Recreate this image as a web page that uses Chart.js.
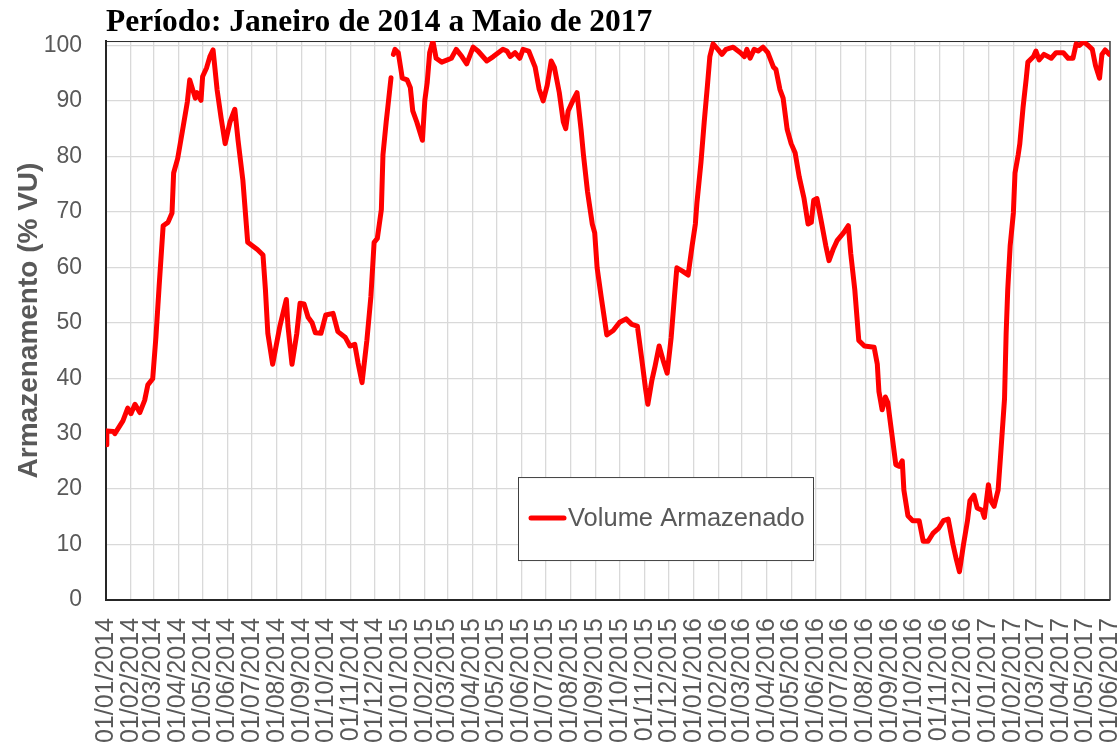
<!DOCTYPE html>
<html>
<head>
<meta charset="utf-8">
<script src="https://cdn.jsdelivr.net/npm/chart.js@4.4.1/dist/chart.umd.min.js"></script>
<style>
  body { margin: 0; background: #fff; }
</style>
</head>
<body>
<canvas id="volume-chart" width="1120" height="745"></canvas>
<script>
// datas (dd/mm/aaaa) e volume armazenado (% VU)
const dates = [
  '01/01/2014','02/01/2014','10/01/2014','12/01/2014','22/01/2014','28/01/2014','01/02/2014','06/02/2014',
  '12/02/2014','18/02/2014','22/02/2014','28/02/2014','04/03/2014','08/03/2014','13/03/2014','19/03/2014',
  '24/03/2014','26/03/2014','31/03/2014','07/04/2014','12/04/2014','15/04/2014','22/04/2014','24/04/2014',
  '29/04/2014','01/05/2014','06/05/2014','10/05/2014','14/05/2014','19/05/2014','24/05/2014','29/05/2014',
  '04/06/2014','10/06/2014','14/06/2014','20/06/2014','26/06/2014','08/07/2014','15/07/2014','18/07/2014',
  '21/07/2014','27/07/2014','05/08/2014','13/08/2014','15/08/2014','20/08/2014','26/08/2014','30/08/2014',
  '04/09/2014','09/09/2014','14/09/2014','18/09/2014','25/09/2014','01/10/2014','10/10/2014','16/10/2014',
  '25/10/2014','31/10/2014','06/11/2014','10/11/2014','15/11/2014','21/11/2014','26/11/2014','30/11/2014',
  '04/12/2014','09/12/2014','11/12/2014','15/12/2014','17/12/2014','21/12/2014','22/12/2014','24/12/2014',
  '26/12/2014','30/12/2014','04/01/2015','10/01/2015','14/01/2015','17/01/2015','22/01/2015','29/01/2015',
  '01/02/2015','04/02/2015','07/02/2015','11/02/2015','15/02/2015','22/02/2015','01/03/2015','06/03/2015',
  '12/03/2015','19/03/2015','25/03/2015','02/04/2015','08/04/2015','19/04/2015','27/04/2015','09/05/2015',
  '14/05/2015','18/05/2015','24/05/2015','30/05/2015','03/06/2015','10/06/2015','18/06/2015','23/06/2015',
  '28/06/2015','03/07/2015','08/07/2015','12/07/2015','18/07/2015','23/07/2015','26/07/2015','29/07/2015',
  '04/08/2015','09/08/2015','14/08/2015','17/08/2015','22/08/2015','28/08/2015','31/08/2015','03/09/2015',
  '08/09/2015','15/09/2015','23/09/2015','01/10/2015','09/10/2015','16/10/2015','23/10/2015','29/10/2015',
  '02/11/2015','05/11/2015','10/11/2015','14/11/2015','19/11/2015','24/11/2015','29/11/2015','04/12/2015',
  '08/12/2015','11/12/2015','18/12/2015','25/12/2015','30/12/2015','03/01/2016','05/01/2016','10/01/2016',
  '14/01/2016','18/01/2016','21/01/2016','25/01/2016','31/01/2016','05/02/2016','10/02/2016','19/02/2016',
  '28/02/2016','04/03/2016','07/03/2016','11/03/2016','16/03/2016','21/03/2016','27/03/2016','02/04/2016',
  '09/04/2016','12/04/2016','17/04/2016','21/04/2016','26/04/2016','01/05/2016','06/05/2016','11/05/2016',
  '17/05/2016','22/05/2016','26/05/2016','29/05/2016','02/06/2016','08/06/2016','13/06/2016','17/06/2016',
  '22/06/2016','27/06/2016','05/07/2016','11/07/2016','14/07/2016','19/07/2016','24/07/2016','31/07/2016',
  '12/08/2016','16/08/2016','18/08/2016','22/08/2016','26/08/2016','29/08/2016','03/09/2016','08/09/2016',
  '12/09/2016','16/09/2016','18/09/2016','23/09/2016','29/09/2016','07/10/2016','12/10/2016','18/10/2016',
  '24/10/2016','31/10/2016','06/11/2016','12/11/2016','18/11/2016','22/11/2016','26/11/2016','01/12/2016',
  '06/12/2016','09/12/2016','14/12/2016','18/12/2016','24/12/2016','27/12/2016','01/01/2017','04/01/2017',
  '08/01/2017','13/01/2017','16/01/2017','21/01/2017','23/01/2017','25/01/2017','28/01/2017','01/02/2017',
  '03/02/2017','07/02/2017','09/02/2017','13/02/2017','17/02/2017','19/02/2017','26/02/2017','01/03/2017',
  '05/03/2017','11/03/2017','20/03/2017','26/03/2017','04/04/2017','10/04/2017','16/04/2017','20/04/2017',
  '24/04/2017','29/04/2017','05/05/2017','10/05/2017','14/05/2017','19/05/2017','22/05/2017','26/05/2017',
  '31/05/2017'
];
const volume = [
  28.0, 30.5, 30.4, 30.0, 32.3, 34.6, 33.6, 35.3,
  33.8, 36.0, 38.8, 39.9, 47.4, 56.6, 67.5, 68.1,
  69.8, 77.0, 79.6, 85.5, 89.8, 93.8, 90.5, 91.5,
  90.1, 94.4, 96.0, 98.0, 99.2, 92.0, 86.9, 82.3,
  86.2, 88.5, 82.9, 75.7, 64.5, 63.2, 62.2, 56.0,
  48.1, 42.5, 49.4, 54.2, 49.4, 42.5, 48.1, 53.5,
  53.4, 51.0, 50.0, 48.2, 48.1, 51.4, 51.7, 48.4,
  47.4, 45.8, 46.1, 42.8, 39.2, 46.8, 54.7, 64.5,
  65.2, 70.4, 80.3, 86.2, 88.8, 94.2, null, 98.4,
  99.3, 98.7, 94.1, 93.8, 92.4, 88.2, 86.2, 82.9,
  90.1, 93.4, 98.7, 100.8, 97.7, 97.0, 97.4, 97.7,
  99.3, 98.0, 96.7, 99.7, 99.0, 97.2, 98.0, 99.3,
  99.0, 98.0, 98.7, 97.7, 99.3, 99.0, 96.1, 92.1,
  90.0, 92.8, 97.2, 96.0, 91.5, 86.2, 85.0, 88.2,
  90.1, 91.5, 84.9, 80.3, 73.7, 67.8, 66.2, 59.9,
  54.7, 47.8, 48.6, 50.1, 50.7, 49.7, 49.4, 42.8,
  38.2, 35.3, 39.6, 42.2, 45.8, 43.2, 40.9, 47.4,
  54.7, 59.9, 59.3, 58.6, 63.9, 67.8, 71.7, 79.0,
  86.2, 92.8, 98.0, 100.3, 99.3, 98.4, 99.3, 99.7,
  98.7, 98.0, 99.3, 97.7, 99.3, 99.0, 99.7, 98.7,
  96.1, 95.7, 92.1, 90.5, 84.9, 82.3, 80.6, 76.3,
  72.4, 67.8, 68.1, 72.1, 72.4, 67.8, 63.9, 61.2,
  63.2, 64.8, 66.2, 67.5, 62.5, 56.0, 46.8, 45.8,
  45.6, 42.5, 37.6, 34.3, 36.6, 35.6, 30.0, 24.4,
  24.1, 25.1, 19.8, 15.2, 14.3, 14.3, 10.6, 10.6,
  12.0, 12.9, 14.3, 14.6, 10.0, 7.4, 5.1, 10.0,
  14.3, 17.9, 18.9, 16.6, 16.2, 14.9, 20.8, 17.9,
  16.9, 19.8, 25.8, 36.3, 48.1, 56.0, 63.9, 69.8,
  77.0, 80.3, 82.3, 88.8, 94.1, 97.0, 98.0, 99.0,
  97.4, 98.4, 97.7, 98.7, 98.7, 97.7, 97.7, 100.3,
  100.0, 100.7, 100.0, 99.3, 96.4, 94.1, 98.4, 99.2,
  98.4
];
const tickLabels = [
  '01/01/2014','01/02/2014','01/03/2014','01/04/2014','01/05/2014','01/06/2014','01/07/2014',
  '01/08/2014','01/09/2014','01/10/2014','01/11/2014','01/12/2014','01/01/2015','01/02/2015',
  '01/03/2015','01/04/2015','01/05/2015','01/06/2015','01/07/2015','01/08/2015','01/09/2015',
  '01/10/2015','01/11/2015','01/12/2015','01/01/2016','01/02/2016','01/03/2016','01/04/2016',
  '01/05/2016','01/06/2016','01/07/2016','01/08/2016','01/09/2016','01/10/2016','01/11/2016',
  '01/12/2016','01/01/2017','01/02/2017','01/03/2017','01/04/2017','01/05/2017','01/06/2017'
];
const yTicks = [0, 10, 20, 30, 40, 50, 60, 70, 80, 90, 100];

var gray = '#595959';
var sans = "'Liberation Sans', Arial, sans-serif";

// dia contado a partir de 01/01/2014
function dayIndex(s) {
  var p = s.split('/');
  return (Date.UTC(+p[2], +p[1] - 1, +p[0]) - Date.UTC(2014, 0, 1)) / 86400000;
}

var points = dates.map(function (d, i) {
  return { x: dayIndex(d), y: volume[i] };
});
var tickDays = tickLabels.map(dayIndex);

var frameAndLegend = {
  id: 'frameAndLegend',
  beforeDatasetsDraw(chart) {
    var a = chart.chartArea, ctx = chart.ctx;
    ctx.save();
    ctx.strokeStyle = '#262626';
    ctx.lineWidth = 1;
    ctx.beginPath();
    ctx.moveTo(a.left, a.top + 0.5);
    ctx.lineTo(a.right, a.top + 0.5);
    ctx.stroke();
    ctx.strokeStyle = '#404040';
    ctx.lineWidth = 1.5;
    ctx.beginPath();
    ctx.moveTo(a.right, a.top);
    ctx.lineTo(a.right, a.bottom);
    ctx.stroke();
    ctx.restore();
  },
  afterDraw(chart) {
    var a = chart.chartArea, ctx = chart.ctx;
    var bx = a.left + 412, by = a.top + 436, bw = 295, bh = 83;
    ctx.save();
    ctx.fillStyle = '#fff';
    ctx.fillRect(bx, by, bw, bh);
    ctx.strokeStyle = '#404040';
    ctx.lineWidth = 1;
    ctx.strokeRect(bx + 0.5, by + 0.5, bw, bh);
    ctx.strokeStyle = '#ff0000';
    ctx.lineWidth = 5;
    ctx.lineCap = 'round';
    ctx.beginPath();
    ctx.moveTo(bx + 13, by + 41);
    ctx.lineTo(bx + 46, by + 41);
    ctx.stroke();
    ctx.fillStyle = gray;
    ctx.font = '25.5px ' + sans;
    ctx.textBaseline = 'middle';
    ctx.fillText(chart.data.datasets[0].label, bx + 50, by + 42);
    ctx.restore();
  }
};

new Chart('volume-chart', {
  type: 'line',
  data: {
    datasets: [
      {
        label: 'Volume Armazenado',
        data: points,
        borderColor: '#ff0000',
        borderWidth: 5,
        borderJoinStyle: 'round',
        borderCapStyle: 'round',
        pointRadius: 0,
        tension: 0,
        spanGaps: false
      }
    ]
  },
  options: {
    responsive: false,
    animation: false,
    devicePixelRatio: 1,
    layout: { padding: { right: 10 } },
    plugins: {
      legend: { display: false },
      tooltip: { enabled: false },
      title: {
        display: true,
        text: 'Período: Janeiro de 2014 a Maio de 2017',
        align: 'start',
        fullSize: false,
        color: '#000',
        font: { family: "'Liberation Serif', 'Times New Roman', serif", size: 31.5, weight: 'bold', lineHeight: 1.1 },
        padding: { top: 6, bottom: 0.4 }
      }
    },
    scales: {
      x: {
        type: 'linear',
        min: 0,
        max: tickDays[tickDays.length - 1],
        afterBuildTicks: function (s) { s.ticks = tickDays.map(function (v) { return { value: v }; }); },
        afterFit: function (s) { s.height = 145; s.paddingLeft = 0; s.paddingRight = 0; },
        ticks: {
          autoSkip: false,
          maxRotation: 90,
          minRotation: 90,
          padding: 18,
          color: gray,
          font: { family: sans, size: 25 },
          callback: function (v, i) { return tickLabels[i]; }
        },
        grid: { color: '#d9d9d9', lineWidth: 1.3, drawTicks: false },
        border: { color: '#262626', width: 2 }
      },
      y: {
        min: 0,
        max: 100.8,
        afterBuildTicks: function (s) { s.ticks = yTicks.map(function (v) { return { value: v }; }); },
        afterFit: function (s) { s.width = 106; },
        ticks: {
          padding: 24,
          color: gray,
          font: { family: sans, size: 23 }
        },
        grid: { color: '#d9d9d9', lineWidth: 1.3, drawTicks: false },
        border: { color: '#262626', width: 2 },
        title: {
          display: true,
          text: 'Armazenamento (% VU)',
          color: gray,
          font: { family: sans, size: 28, weight: 'bold' },
          padding: { top: 12, bottom: 0 }
        }
      }
    }
  },
  plugins: [frameAndLegend]
});
</script>
</body>
</html>
